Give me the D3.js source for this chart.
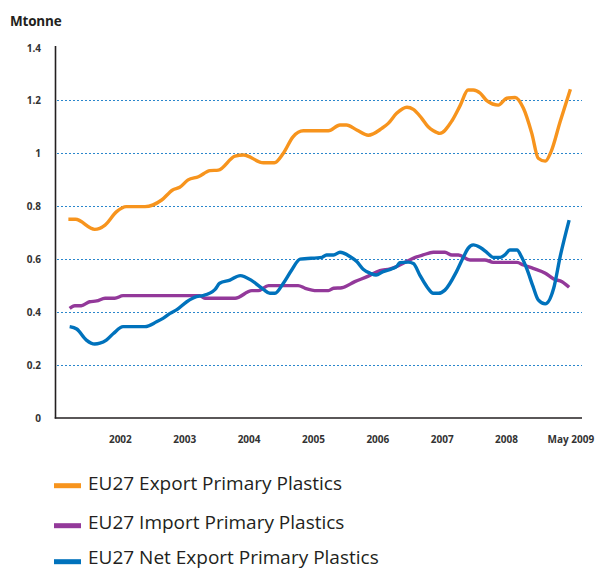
<!DOCTYPE html>
<html>
<head>
<meta charset="utf-8">
<script src="https://cdn.jsdelivr.net/npm/d3@7"></script>
<style>
  html, body { margin: 0; padding: 0; background: #ffffff; }
  svg { display: block; }
</style>
</head>
<body>
<svg id="chart" width="597" height="570"></svg>
<script>
// ---- Data ----
const yAxisTitle = "Mtonne";
const yTicks = [0, 0.2, 0.4, 0.6, 0.8, 1, 1.2, 1.4];
const xTickValues = [2002, 2003, 2004, 2005, 2006, 2007, 2008, 2009];
const xTickLabels = ["2002", "2003", "2004", "2005", "2006", "2007", "2008", "May 2009"];
const seriesNames = ["EU27 Export Primary Plastics", "EU27 Import Primary Plastics", "EU27 Net Export Primary Plastics"];
const seriesColors = ["#f7941d", "#93399a", "#0072bc"];

const exportYears = [2001.20, 2001.31, 2001.61, 2001.77, 2001.95, 2002.10, 2002.39, 2002.65, 2002.82, 2002.93,
  2003.06, 2003.22, 2003.40, 2003.53, 2003.79, 2003.92, 2004.23, 2004.40, 2004.54, 2004.69,
  2004.85, 2005.24, 2005.42, 2005.52, 2005.68, 2005.86, 2006.07, 2006.17, 2006.30, 2006.46,
  2006.56, 2006.69, 2006.79, 2006.87, 2006.97, 2007.16, 2007.29, 2007.41, 2007.49, 2007.60,
  2007.70, 2007.88, 2008.01, 2008.14, 2008.27, 2008.40, 2008.50, 2008.61, 2008.70, 2008.84, 2009.00];
const exportValues = [0.750, 0.750, 0.712, 0.728, 0.779, 0.798, 0.798, 0.823, 0.861, 0.871,
  0.899, 0.911, 0.934, 0.936, 0.989, 0.993, 0.964, 0.964, 1.000, 1.062,
  1.085, 1.085, 1.107, 1.107, 1.088, 1.068, 1.094, 1.113, 1.151, 1.174,
  1.166, 1.132, 1.100, 1.085, 1.075, 1.123, 1.182, 1.239, 1.239, 1.227,
  1.199, 1.182, 1.208, 1.211, 1.170, 1.075, 0.981, 0.970, 1.006, 1.119, 1.242];

const importYears = [2001.22, 2001.30, 2001.40, 2001.53, 2001.64, 2001.77, 2001.92, 2002.05, 2003.24, 2003.32,
  2003.79, 2004.05, 2004.15, 2004.31, 2004.77, 2004.88, 2005.06, 2005.24, 2005.32, 2005.45,
  2005.65, 2005.86, 2006.04, 2006.20, 2006.35, 2006.59, 2006.71, 2006.87, 2007.05, 2007.16,
  2007.26, 2007.44, 2007.67, 2007.80, 2008.17, 2008.27, 2008.42, 2008.61, 2008.74, 2008.87, 2008.98];
const importValues = [0.413, 0.423, 0.423, 0.438, 0.441, 0.451, 0.451, 0.461, 0.461, 0.451,
  0.451, 0.480, 0.480, 0.499, 0.499, 0.489, 0.480, 0.480, 0.489, 0.491,
  0.514, 0.535, 0.556, 0.562, 0.577, 0.606, 0.615, 0.625, 0.625, 0.615,
  0.615, 0.596, 0.596, 0.587, 0.587, 0.577, 0.564, 0.546, 0.524, 0.514, 0.493];

const netYears = [2001.22, 2001.33, 2001.48, 2001.61, 2001.69, 2001.79, 2001.90, 2002.05, 2002.39, 2002.57,
  2002.67, 2002.78, 2002.88, 2003.04, 2003.19, 2003.29, 2003.48, 2003.55, 2003.71, 2003.87,
  2004.05, 2004.23, 2004.33, 2004.41, 2004.54, 2004.67, 2004.80, 2005.14, 2005.21, 2005.32,
  2005.42, 2005.58, 2005.68, 2005.78, 2005.89, 2005.98, 2006.09, 2006.22, 2006.30, 2006.35,
  2006.48, 2006.56, 2006.66, 2006.77, 2006.87, 2006.95, 2007.05, 2007.23, 2007.34, 2007.41,
  2007.49, 2007.60, 2007.70, 2007.80, 2007.91, 2007.98, 2008.06, 2008.17, 2008.24, 2008.32,
  2008.42, 2008.50, 2008.61, 2008.74, 2008.84, 2008.98];
const netValues = [0.344, 0.335, 0.293, 0.278, 0.281, 0.293, 0.318, 0.344, 0.344, 0.362,
  0.375, 0.394, 0.407, 0.438, 0.457, 0.461, 0.485, 0.508, 0.520, 0.537,
  0.518, 0.485, 0.470, 0.470, 0.508, 0.558, 0.599, 0.606, 0.615, 0.615,
  0.625, 0.608, 0.590, 0.561, 0.546, 0.539, 0.552, 0.562, 0.571, 0.586,
  0.588, 0.583, 0.539, 0.495, 0.470, 0.470, 0.482, 0.552, 0.608, 0.640,
  0.653, 0.643, 0.625, 0.606, 0.606, 0.615, 0.634, 0.634, 0.608, 0.564,
  0.495, 0.445, 0.430, 0.489, 0.608, 0.747];

// ---- Build ----
const series = [
  { name: seriesNames[0], color: seriesColors[0], pts: d3.zip(exportYears, exportValues) },
  { name: seriesNames[1], color: seriesColors[1], pts: d3.zip(importYears, importValues) },
  { name: seriesNames[2], color: seriesColors[2], pts: d3.zip(netYears, netValues) }
];

const svg = d3.select("#chart");
const FONT = "'Open Sans', 'Noto Sans', sans-serif";

const x = d3.scaleLinear().domain([2001, 2009.18]).range([55.5, 582]);
const y = d3.scaleLinear().domain([0, 1.4]).range([417.5, 47.5]);

// gridlines
svg.append("g")
  .selectAll("line")
  .data(yTicks.filter(v => v > 0 && v < 1.4))
  .join("line")
  .attr("x1", 57).attr("x2", 582)
  .attr("y1", d => Math.round(y(d)) + 0.5).attr("y2", d => Math.round(y(d)) + 0.5)
  .attr("stroke", "#2a86cc")
  .attr("stroke-width", 1.1)
  .attr("stroke-dasharray", "2,2");

// y axis
const yAxis = d3.axisLeft(y).tickValues(yTicks).tickSize(0).tickPadding(0)
  .tickFormat(d => d3.format("")(d));
const gy = svg.append("g").attr("transform", "translate(41,0)").call(yAxis);
gy.select(".domain").remove();
gy.selectAll("text")
  .attr("font-family", FONT).attr("font-size", 10).attr("font-weight", 700)
  .attr("fill", "#333333").attr("dy", "0.35em");

// x axis
const xAxis = d3.axisBottom(x).tickValues(xTickValues).tickSize(0).tickPadding(0)
  .tickFormat((d, i) => xTickLabels[i]);
const gx = svg.append("g").attr("transform", "translate(0,436)").call(xAxis);
gx.select(".domain").remove();
gx.selectAll("text")
  .attr("font-family", FONT).attr("font-size", 10).attr("font-weight", 700)
  .attr("fill", "#333333").attr("dy", "0.71em");

// axis lines
svg.append("line").attr("x1", 55.5).attr("x2", 55.5).attr("y1", 46).attr("y2", 418.5)
  .attr("stroke", "#231f20").attr("stroke-width", 1.6);
svg.append("line").attr("x1", 54.7).attr("x2", 582).attr("y1", 418).attr("y2", 418)
  .attr("stroke", "#231f20").attr("stroke-width", 1.6);

// title
svg.append("text").attr("x", 10).attr("y", 26).text(yAxisTitle)
  .attr("font-family", FONT).attr("font-size", 13.5).attr("font-weight", 700)
  .attr("fill", "#231f20").attr("letter-spacing", "-0.2");

// lines
const line = d3.line().x(d => x(d[0])).y(d => y(d[1])).curve(d3.curveMonotoneX);
svg.append("g").selectAll("path")
  .data(series)
  .join("path")
  .attr("d", d => line(d.pts))
  .attr("fill", "none")
  .attr("stroke", d => d.color)
  .attr("stroke-width", 3.4)
  .attr("stroke-linejoin", "round")
  .attr("stroke-linecap", "butt");

// legend
const swatchY = [485.7, 525.7, 561.7];
const textBase = [489.5, 528.5, 564];
const lg = svg.append("g").selectAll("g").data(series).join("g");
lg.append("rect").attr("x", 54).attr("y", (d, i) => swatchY[i] - 2.5).attr("width", 27).attr("height", 5)
  .attr("fill", d => d.color);
lg.append("text").attr("x", 88).attr("y", (d, i) => textBase[i])
  .text(d => d.name)
  .attr("font-family", FONT).attr("font-size", 19).attr("fill", "#231f20");
</script>
</body>
</html>
